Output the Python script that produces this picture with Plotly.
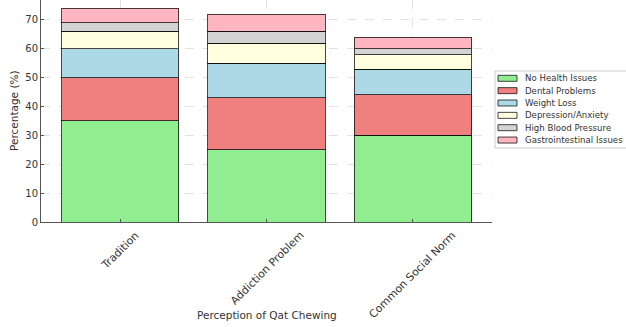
import plotly.graph_objects as go

# Perception categories and share of respondents (%) reporting each health outcome
categories = ["Tradition", "Addiction Problem", "Common Social Norm"]
series_names = [
    "No Health Issues",
    "Dental Problems",
    "Weight Loss",
    "Depression/Anxiety",
    "High Blood Pressure",
    "Gastrointestinal Issues",
]
no_health_issues = [35, 25, 30]
dental_problems = [15, 18, 14]
weight_loss = [10, 12, 9]
depression_anxiety = [6, 7, 5]
high_blood_pressure = [3, 4, 2]
gastrointestinal_issues = [5, 6, 4]
y_ticks = [0, 10, 20, 30, 40, 50, 60, 70]

series_values = [
    no_health_issues,
    dental_problems,
    weight_loss,
    depression_anxiety,
    high_blood_pressure,
    gastrointestinal_issues,
]
colors = ["#90EE90", "#F08080", "#ADD8E6", "#FFFFE0", "#D3D3D3", "#FFB6C1"]

W, H = 626, 327
L, R, T, B = 41, 134, 0, 105
plot_w = W - L - R
plot_h = H - T - B
FONT = "DejaVu Sans"
TXT = "#333333"
EDGE = "rgba(0,0,0,0.72)"

fig = go.Figure()
for name, vals, col in zip(series_names, series_values, colors):
    fig.add_trace(go.Bar(
        x=list(range(len(categories))), y=vals, name=name,
        marker=dict(color=col, line=dict(color=EDGE, width=1)),
        showlegend=False,
    ))

annotations = []
shapes = []

# Rotated category labels centred under each tick
for i, c in enumerate(categories):
    annotations.append(dict(
        x=i, y=0, xref="x", yref="paper", text=c, showarrow=False,
        textangle=-45, xanchor="center", yanchor="top", yshift=-4,
        font=dict(family=FONT, size=10.8, color=TXT),
    ))

# Axis titles
annotations.append(dict(
    x=0.5, y=0, xref="paper", yref="paper", text="Perception of Qat Chewing",
    showarrow=False, xanchor="center", yanchor="middle", yshift=-93,
    font=dict(family=FONT, size=10.5, color=TXT),
))
annotations.append(dict(
    x=0, y=0.5, xref="paper", yref="paper", text="Percentage (%)",
    showarrow=False, textangle=-90, xanchor="center", yanchor="middle", xshift=-27,
    font=dict(family=FONT, size=10.5, color=TXT),
))

# Legend box drawn beside the axes
def px_x(p):
    return (p - L) / plot_w

def px_y(p):
    return (H - B - p) / plot_h

shapes.append(dict(
    type="rect", xref="paper", yref="paper",
    x0=px_x(495), x1=px_x(632), y0=px_y(148), y1=px_y(71),
    line=dict(color="#cccccc", width=1), fillcolor="white", layer="above",
))
row0, row_step = 78.3, 12.35
for k, (name, col) in enumerate(zip(series_names, colors)):
    cy = row0 + k * row_step
    shapes.append(dict(
        type="rect", xref="paper", yref="paper",
        x0=px_x(498), x1=px_x(517), y0=px_y(cy + 3), y1=px_y(cy - 3),
        line=dict(color=EDGE, width=1), fillcolor=col, layer="above",
    ))
    annotations.append(dict(
        x=px_x(523), y=px_y(cy), xref="paper", yref="paper", text=name,
        showarrow=False, xanchor="left", yanchor="middle",
        font=dict(family=FONT, size=8.6, color=TXT),
    ))

fig.update_layout(
    width=W, height=H,
    margin=dict(l=L, r=R, t=T, b=B, pad=0),
    barmode="stack", bargap=0.2,
    plot_bgcolor="white", paper_bgcolor="white",
    annotations=annotations, shapes=shapes,
    showlegend=False,
)
fig.update_xaxes(
    range=[-0.54, 2.54], tickmode="array", tickvals=list(range(len(categories))),
    showticklabels=False, ticks="inside", ticklen=3, tickcolor="#555555",
    showline=True, linecolor="#555555", linewidth=1,
    showgrid=True, gridcolor="#e2e2e2", griddash="dash", gridwidth=0.8,
    zeroline=False,
)
fig.update_yaxes(
    range=[0, 76.9], tickmode="array", tickvals=y_ticks,
    ticks="inside", ticklen=3, tickcolor="#555555",
    tickfont=dict(family=FONT, size=10, color=TXT),
    showline=True, linecolor="#555555", linewidth=1,
    showgrid=True, gridcolor="#e2e2e2", griddash="dash", gridwidth=0.8,
    zeroline=False,
)

fig.write_html("out.html")
